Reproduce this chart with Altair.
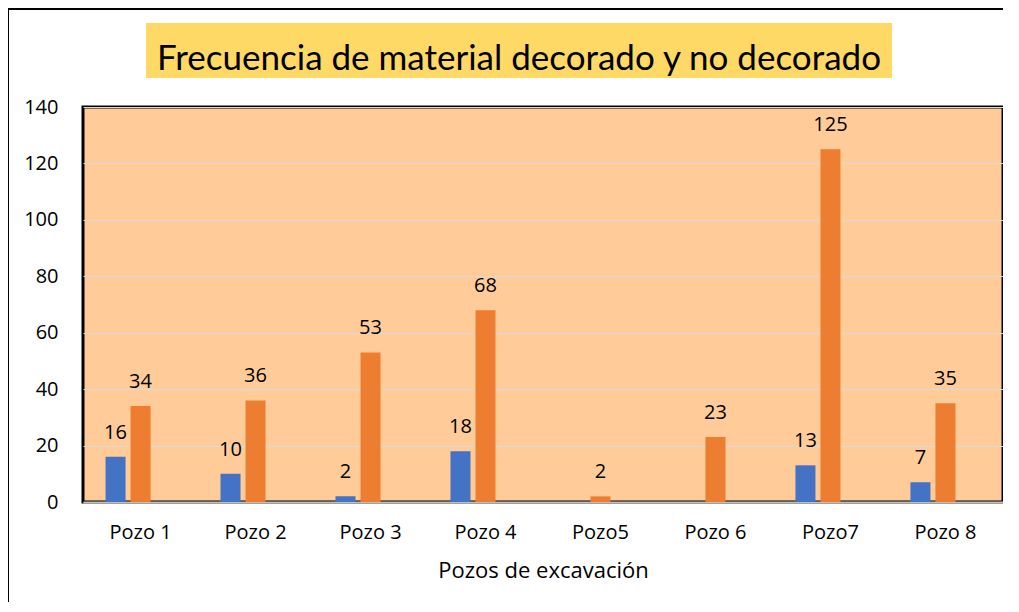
import altair as alt
import pandas as pd

# ---- data ----
pozos = ["Pozo 1", "Pozo 2", "Pozo 3", "Pozo  4", "Pozo5", "Pozo 6", "Pozo7", "Pozo 8"]
decorado = [16, 10, 2, 18, None, None, 13, 7]
no_decorado = [34, 36, 53, 68, 2, 23, 125, 35]
series = ["Decorado", "No decorado", "Serie 3"]   # third series is empty in the source
series_colors = ["#4472C4", "#ED7D31", "#A5A5A5"]
y_ticks = [0, 20, 40, 60, 80, 100, 120, 140]
title_text = "Frecuencia de material  decorado y no decorado"
x_title = "Pozos de excavación"

rows = []
for p, d, n in zip(pozos, decorado, no_decorado):
    if d is not None:
        rows.append({"pozo": p, "serie": series[0], "valor": d})
    if n is not None:
        rows.append({"pozo": p, "serie": series[1], "valor": n})
df = pd.DataFrame(rows)

FONT = "Open Sans"
TITLE_FONT = "Lato"

base = alt.Chart(df).encode(
    x=alt.X(
        "pozo:N",
        sort=pozos,
        scale=alt.Scale(paddingInner=0.391, paddingOuter=0.196),
        axis=alt.Axis(
            title=x_title,
            labelAngle=0,
            labelFont=FONT,
            labelFontSize=20,
            labelColor="black",
            labelPadding=20,
            ticks=False,
            grid=False,
            domainColor="#BFBFBF",
            domainWidth=2,
            titleFont=FONT,
            titleFontSize=22,
            titleFontWeight="normal",
            titleColor="black",
            titlePadding=18,
        ),
    ),
    xOffset=alt.XOffset(
        "serie:N",
        scale=alt.Scale(domain=series, paddingInner=0.2, paddingOuter=0),
    ),
    y=alt.Y(
        "valor:Q",
        scale=alt.Scale(domain=[0, 140], nice=False),
        axis=alt.Axis(
            title=None,
            values=y_ticks,
            labelFont=FONT,
            labelFontSize=20,
            labelColor="black",
            labelPadding=25,
            ticks=False,
            domain=False,
            grid=True,
            gridColor="#D9D9D9",
            gridWidth=1,
        ),
    ),
)

bars = base.mark_bar().encode(
    color=alt.Color("serie:N", scale=alt.Scale(domain=series, range=series_colors), legend=None)
)

labels = base.mark_text(
    baseline="alphabetic", dy=-18, font=FONT, fontSize=20, color="black"
).encode(text="valor:Q")

deco_df = pd.DataFrame({"t": [title_text]})

outer_border = alt.Chart(deco_df).mark_rect(
    fillOpacity=0, stroke="black", strokeWidth=2
).encode(
    x=alt.value(-75), x2=alt.value(1000), y=alt.value(-98), y2=alt.value(600)
)

title_box = alt.Chart(deco_df).mark_rect(color="#FFD966").encode(
    x=alt.value(63), x2=alt.value(809), y=alt.value(-84), y2=alt.value(-29)
)

title_txt = alt.Chart(deco_df).mark_text(
    font=TITLE_FONT, fontSize=35, color="black", align="center", baseline="alphabetic"
).encode(x=alt.value(436), y=alt.value(-37), text="t:N")

chart = (
    alt.layer(outer_border, title_box, title_txt, bars, labels)
    .properties(
        width=920,
        height=395,
        autosize=alt.AutoSizeParams(type="none"),
        padding={"left": 75, "top": 99, "right": 0, "bottom": 100},
        background="white",
    )
    .configure_view(fill="#FFCC99", stroke="black", strokeWidth=3)
)

chart.save("out.html", embed_options={"renderer": "svg", "actions": False})
